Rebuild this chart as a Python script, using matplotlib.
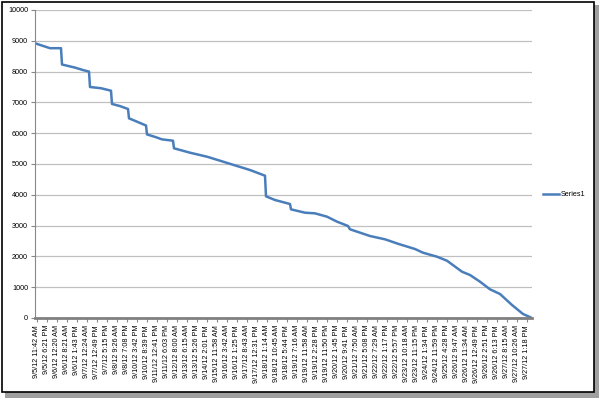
import matplotlib.pyplot as plt
from matplotlib.patches import Rectangle

plt.rcParams['font.family'] = ['Liberation Sans', 'DejaVu Sans']

# readings: record number and items remaining
record = [0, 15, 26, 27, 40, 48, 54, 55, 66, 76, 77, 85, 93, 94, 103, 111, 112,
          120, 127, 138, 139, 155, 172, 185, 202, 215, 230, 231, 240, 255, 256,
          270, 280, 292, 302, 313, 315, 335, 350, 363, 380, 388, 402, 412, 427,
          435, 445, 455, 465, 477, 488, 497]
remaining = [8920, 8760, 8760, 8230, 8130, 8050, 8000, 7500, 7460, 7380, 6950,
             6880, 6786, 6483, 6360, 6250, 5960, 5880, 5800, 5756, 5510, 5367,
             5237, 5107, 4935, 4805, 4620, 3950, 3831, 3701, 3528, 3419, 3398,
             3290, 3128, 2987, 2880, 2662, 2555, 2410, 2240, 2120, 1990, 1860,
             1503, 1396, 1179, 932, 779, 422, 130, 0]

tick_labels = [
    '9/5/12 11:42 AM', '9/5/12 6:21 PM', '9/6/12 12:20 AM', '9/6/12 8:21 AM',
    '9/6/12 1:43 PM', '9/7/12 12:24 AM', '9/7/12 12:49 PM', '9/7/12 5:15 PM',
    '9/8/12 9:26 AM', '9/8/12 7:08 PM', '9/10/12 3:42 PM', '9/10/12 8:39 PM',
    '9/11/12 12:41 PM', '9/11/12 6:03 PM', '9/12/12 8:00 AM', '9/13/12 6:15 AM',
    '9/13/12 5:26 PM', '9/14/12 2:01 PM', '9/15/12 11:58 AM', '9/16/12 3:42 AM',
    '9/16/12 1:25 PM', '9/17/12 8:43 AM', '9/17/12 12:31 PM', '9/18/12 1:14 AM',
    '9/18/12 10:45 AM', '9/18/12 5:44 PM', '9/19/12 7:16 AM', '9/19/12 11:58 AM',
    '9/19/12 2:28 PM', '9/19/12 11:50 PM', '9/20/12 1:45 PM', '9/20/12 9:41 PM',
    '9/21/12 7:50 AM', '9/21/12 5:08 PM', '9/22/12 7:29 AM', '9/22/12 1:17 PM',
    '9/22/12 5:57 PM', '9/23/12 10:18 AM', '9/23/12 11:15 PM', '9/24/12 1:34 PM',
    '9/24/12 11:59 PM', '9/25/12 4:28 PM', '9/26/12 9:47 AM', '9/26/12 11:34 AM',
    '9/26/12 12:49 PM', '9/26/12 2:51 PM', '9/26/12 6:13 PM', '9/27/12 8:15 AM',
    '9/27/12 10:26 AM', '9/27/12 1:18 PM']
tick_pos = [2 + 10 * i for i in range(len(tick_labels))]

fig = plt.figure(figsize=(6.05, 4.01), dpi=100)
ax = fig.add_axes([35 / 605, 1 - 318 / 401, 497 / 605, 308 / 401])

# chart frame with drop shadow
fig.patches.append(Rectangle((5 / 605, 1 - 398 / 401), 594 / 605, 393 / 401,
                             transform=fig.transFigure, facecolor='#a0a0a0',
                             edgecolor='none', zorder=-2))
fig.patches.append(Rectangle((1.5 / 605, 1 - 392 / 401), 592 / 605, 390.5 / 401,
                             transform=fig.transFigure, facecolor='white',
                             edgecolor='black', linewidth=1.2, zorder=-1))

ax.plot(record, remaining, color='#4a7ebb', linewidth=1.8, label='Series1',
        solid_joinstyle='round')

ax.set_xlim(0, 497)
ax.set_ylim(0, 10000)
ax.set_yticks(range(0, 10001, 1000))
ax.set_xticks(tick_pos)
ax.set_xticklabels(tick_labels, rotation=90, fontsize=5.2)
ax.tick_params(axis='y', labelsize=5.2, length=3, color='#888888', pad=2)
ax.tick_params(axis='x', length=3, color='#888888', pad=2)
ax.grid(axis='y', color='#c0c0c0', linewidth=0.9)
ax.set_axisbelow(True)
for s in ['top', 'right']:
    ax.spines[s].set_visible(False)
ax.spines['left'].set_color('#888888')
ax.spines['left'].set_linewidth(0.8)
ax.spines['bottom'].set_color('#808080')
ax.spines['bottom'].set_linewidth(2)
ax.patch.set_alpha(0)

ax.legend(loc='center left', bbox_to_anchor=(1.01, 0.4), frameon=False,
          fontsize=5.2, handlelength=2.2, handletextpad=0.2)

fig.savefig('out.png', dpi=100)
